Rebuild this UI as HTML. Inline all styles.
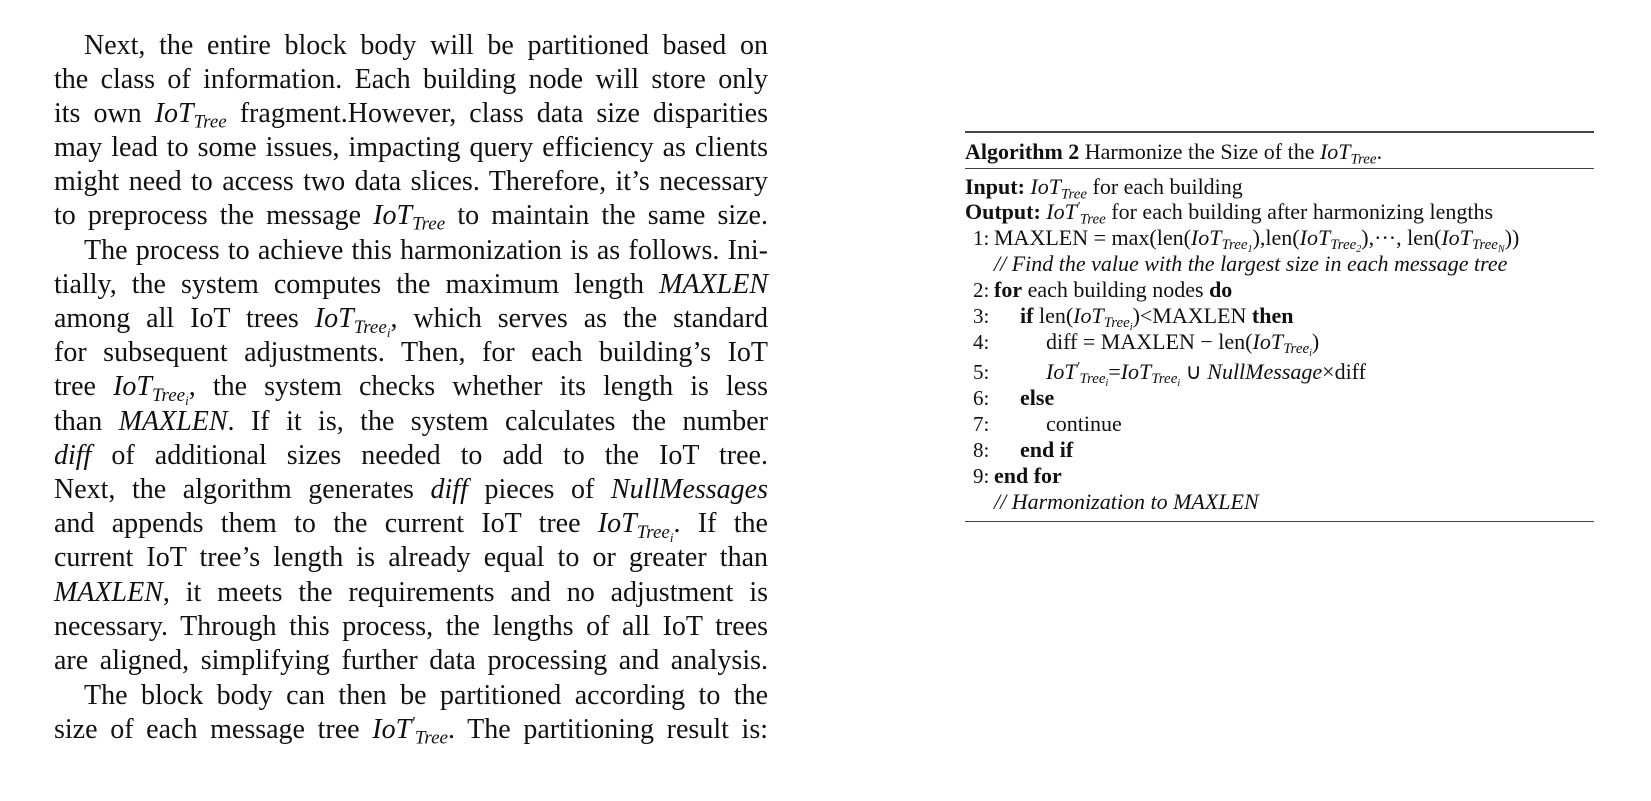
<!DOCTYPE html>
<html><head><meta charset="utf-8">
<style>
body{margin:0;width:1651px;height:801px;background:#fff;overflow:hidden;position:relative;font-family:"Liberation Serif",serif;color:#111;}
.l{position:absolute;left:54px;width:714px;height:34px;line-height:34px;font-size:28px;text-align:justify;text-align-last:justify;white-space:nowrap;}
.i{font-style:italic;}
sub{font-size:0.68em;font-style:italic;vertical-align:-0.3em;line-height:0;}
sup{font-size:0.6em;vertical-align:0.6em;line-height:0;}
.a{position:absolute;height:26px;line-height:26px;font-size:22px;white-space:nowrap;}
.n{position:absolute;left:973px;height:26px;line-height:26px;font-size:21px;}
.rule{position:absolute;left:965px;width:629px;background:#444;}
</style></head><body>
<div>
<div class="l" style="top:29px;padding-left:30px;width:684px">Next, the entire block body will be partitioned based on</div>
<div class="l" style="top:63px">the class of information. Each building node will store only</div>
<div class="l" style="top:97px">its own <span class="i">IoT<sub>Tree</sub></span> fragment.However, class data size disparities</div>
<div class="l" style="top:131px">may lead to some issues, impacting query efficiency as clients</div>
<div class="l" style="top:165px">might need to access two data slices. Therefore, it’s necessary</div>
<div class="l" style="top:199px">to preprocess the message <span class="i">IoT<sub>Tree</sub></span> to maintain the same size.</div>
<div class="l" style="top:234px;padding-left:30px;width:684px">The process to achieve this harmonization is as follows. Ini-</div>
<div class="l" style="top:268px">tially, the system computes the maximum length <span class="i">MAXLEN</span></div>
<div class="l" style="top:302px">among all IoT trees <span class="i">IoT<sub>Tree<sub>i</sub></sub></span>, which serves as the standard</div>
<div class="l" style="top:336px">for subsequent adjustments. Then, for each building’s IoT</div>
<div class="l" style="top:370px">tree <span class="i">IoT<sub>Tree<sub>i</sub></sub></span>, the system checks whether its length is less</div>
<div class="l" style="top:405px">than <span class="i">MAXLEN</span>. If it is, the system calculates the number</div>
<div class="l" style="top:439px"><span class="i">diff</span> of additional sizes needed to add to the IoT tree.</div>
<div class="l" style="top:473px">Next, the algorithm generates <span class="i">diff</span> pieces of <span class="i">NullMessages</span></div>
<div class="l" style="top:507px">and appends them to the current IoT tree <span class="i">IoT<sub>Tree<sub>i</sub></sub></span>. If the</div>
<div class="l" style="top:541px">current IoT tree’s length is already equal to or greater than</div>
<div class="l" style="top:576px"><span class="i">MAXLEN</span>, it meets the requirements and no adjustment is</div>
<div class="l" style="top:610px">necessary. Through this process, the lengths of all IoT trees</div>
<div class="l" style="top:644px">are aligned, simplifying further data processing and analysis.</div>
<div class="l" style="top:679px;padding-left:30px;width:684px">The block body can then be partitioned according to the</div>
<div class="l" style="top:713px">size of each message tree <span class="i">IoT<sup>′</sup><sub>Tree</sub></span>. The partitioning result is:</div>
</div>
<div>
<div class="rule" style="top:131px;height:2px"></div>
<div class="rule" style="top:168px;height:1px"></div>
<div class="rule" style="top:521px;height:1px"></div>
<div class="a" style="left:965px;top:139px"><b>Algorithm 2</b> Harmonize the Size of the <span class="i">IoT<sub>Tree</sub></span>.</div>
<div class="a" style="left:965px;top:174px"><b>Input:</b> <span class="i">IoT<sub>Tree</sub></span> for each building</div>
<div class="a" style="left:965px;top:199px"><b>Output:</b> <span class="i">IoT<sup>′</sup><sub>Tree</sub></span> for each building after harmonizing lengths</div>
<div class="n" style="top:225px">1:</div><div class="a" style="left:994px;top:225px">MAXLEN = max(len(<span class="i">IoT<sub>Tree<sub>1</sub></sub></span>),len(<span class="i">IoT<sub>Tree<sub>2</sub></sub></span>),···, len(<span class="i">IoT<sub>Tree<sub>N</sub></sub></span>))</div>
<div class="a i" style="left:994px;top:251px">// Find the value with the largest size in each message tree</div>
<div class="n" style="top:277px">2:</div><div class="a" style="left:994px;top:277px"><b>for</b> each building nodes <b>do</b></div>
<div class="n" style="top:303px">3:</div><div class="a" style="left:1020px;top:303px"><b>if</b> len(<span class="i">IoT<sub>Tree<sub>i</sub></sub></span>)&lt;MAXLEN <b>then</b></div>
<div class="n" style="top:329px">4:</div><div class="a" style="left:1046px;top:329px">diff = MAXLEN − len(<span class="i">IoT<sub>Tree<sub>i</sub></sub></span>)</div>
<div class="n" style="top:359px">5:</div><div class="a" style="left:1046px;top:359px"><span class="i">IoT<sup>′</sup><sub>Tree<sub>i</sub></sub></span>=<span class="i">IoT<sub>Tree<sub>i</sub></sub></span> ∪ <span class="i">NullMessage</span>×diff</div>
<div class="n" style="top:385px">6:</div><div class="a" style="left:1020px;top:385px"><b>else</b></div>
<div class="n" style="top:411px">7:</div><div class="a" style="left:1046px;top:411px">continue</div>
<div class="n" style="top:437px">8:</div><div class="a" style="left:1020px;top:437px"><b>end if</b></div>
<div class="n" style="top:463px">9:</div><div class="a" style="left:994px;top:463px"><b>end for</b></div>
<div class="a i" style="left:994px;top:489px">// Harmonization to MAXLEN</div>
</div>
</body></html>
